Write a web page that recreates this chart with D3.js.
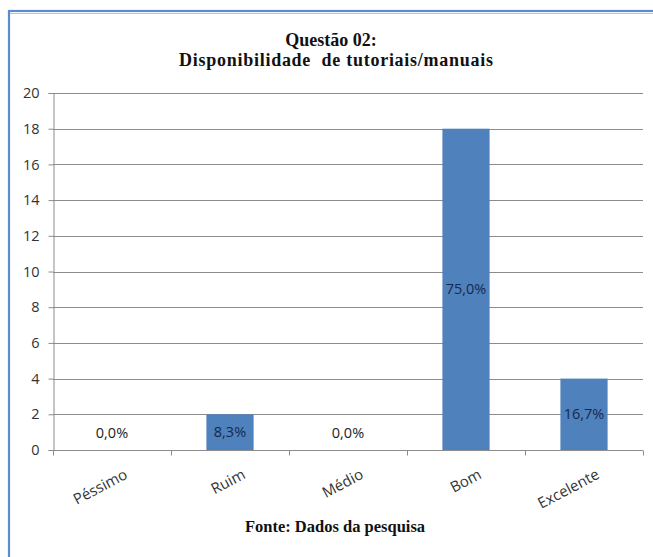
<!DOCTYPE html>
<html>
<head>
<meta charset="utf-8">
<script src="https://cdn.jsdelivr.net/npm/d3@7"></script>
<style>
  html, body { margin: 0; padding: 0; background: #fff; }
  svg { display: block; }
</style>
</head>
<body>
<script>
// Survey answers for question 02
const categories = ["Péssimo", "Ruim", "Médio", "Bom", "Excelente"];
const counts = [0, 2, 0, 18, 4];
const yTicks = [0, 2, 4, 6, 8, 10, 12, 14, 16, 18, 20];
const titleLines = ["Questão 02:", "Disponibilidade  de tutoriais/manuais"];
const sourceText = "Fonte: Dados da pesquisa";

const W = 653, H = 557;
const margin = { left: 53, top: 93 };
const plotRight = 643;
const plotBottom = 450;
const sans = "'Open Sans', Lato, sans-serif";
const serif = "'Liberation Serif', 'Times New Roman', serif";

const svg = d3.select("body").append("svg")
  .attr("width", W).attr("height", H);

// Frame around the chart
svg.append("rect")
  .attr("x", 9).attr("y", 13.5).attr("width", W + 20).attr("height", H + 20)
  .attr("fill", "none").attr("stroke", "#c4c4c4").attr("stroke-width", 1);
svg.append("rect")
  .attr("x", 9).attr("y", 11).attr("width", W + 20).attr("height", H + 20)
  .attr("fill", "none").attr("stroke", "#5b8bd3").attr("stroke-width", 2.2);

const x = d3.scaleBand()
  .domain(categories)
  .range([margin.left, plotRight])
  .paddingInner(0.6).paddingOuter(0.3);

const xOuter = d3.scaleBand()
  .domain(categories)
  .range([margin.left, plotRight]);

const y = d3.scaleLinear()
  .domain([0, 20])
  .range([plotBottom, margin.top]);

// Horizontal gridlines
svg.append("g")
  .selectAll("line")
  .data(yTicks.filter(d => d > 0))
  .join("line")
  .attr("x1", margin.left).attr("x2", plotRight)
  .attr("y1", d => Math.round(y(d)) + 0.5).attr("y2", d => Math.round(y(d)) + 0.5)
  .attr("stroke", "#8c8c8c").attr("stroke-width", 1);

// Bars
const total = d3.sum(counts);
const data = categories.map((c, i) => ({ cat: c, value: counts[i], pct: counts[i] / total * 100 }));

svg.append("g")
  .selectAll("rect")
  .data(data)
  .join("rect")
  .attr("x", d => x(d.cat))
  .attr("width", x.bandwidth())
  .attr("y", d => y(d.value))
  .attr("height", d => y(0) - y(d.value))
  .attr("fill", "#4f81bd");

// Y axis
const yAxis = svg.append("g")
  .attr("transform", `translate(${margin.left + 0.5},0)`)
  .call(d3.axisLeft(y).tickValues(yTicks).tickSize(5).tickPadding(9).tickFormat(d3.format("d")));
yAxis.select(".domain").attr("stroke", "#8c8c8c");
yAxis.selectAll(".tick line").attr("stroke", "#8c8c8c");
yAxis.selectAll("text")
  .attr("fill", "#333").attr("font-family", sans).attr("font-size", 14.5);

// X axis with tick marks on category boundaries
const xAxisG = svg.append("g").attr("transform", `translate(0,${plotBottom + 0.5})`);
xAxisG.append("line")
  .attr("x1", margin.left).attr("x2", plotRight)
  .attr("stroke", "#8c8c8c");
const bounds = categories.map(c => xOuter(c)).concat([plotRight]);
xAxisG.selectAll("line.tk")
  .data(bounds)
  .join("line").attr("class", "tk")
  .attr("x1", d => Math.round(d) + 0.5).attr("x2", d => Math.round(d) + 0.5)
  .attr("y1", 0).attr("y2", 5)
  .attr("stroke", "#8c8c8c");

// Rotated category labels
svg.append("g")
  .selectAll("text")
  .data(categories)
  .join("text")
  .attr("transform", d => `translate(${x(d) + x.bandwidth() / 2 + 14},${plotBottom + 23}) rotate(-28)`)
  .attr("text-anchor", "end")
  .attr("dy", "0.35em")
  .attr("fill", "#333")
  .attr("font-family", sans)
  .attr("font-size", 15)
  .text(d => d);

// Percentage labels centred in each bar
const fmtPct = v => d3.format(".1f")(v).replace(".", ",") + "%";
svg.append("g")
  .selectAll("text")
  .data(data)
  .join("text")
  .attr("x", d => x(d.cat) + x.bandwidth() / 2)
  .attr("y", d => d.value > 0 ? (y(d.value) + y(0)) / 2 : y(0) - 17)
  .attr("text-anchor", "middle")
  .attr("dy", "0.35em")
  .attr("fill", d => d.value > 0 ? "#16294a" : "#222")
  .attr("font-family", sans)
  .attr("font-size", 14.5)
  .text(d => fmtPct(d.pct));

// Title
const title = svg.append("text")
  .attr("text-anchor", "middle")
  .attr("font-family", serif)
  .attr("font-weight", "bold")
  .attr("font-size", 18)
  .attr("fill", "#111");
title.selectAll("tspan")
  .data(titleLines)
  .join("tspan")
  .attr("x", (d, i) => i === 0 ? 331 : 336)
  .attr("y", (d, i) => 46 + i * 20)
  .attr("textLength", (d, i) => i === 0 ? null : 314)
  .attr("lengthAdjust", "spacing")
  .style("white-space", "pre")
  .text(d => d);

// Source note
svg.append("text")
  .attr("x", 335).attr("y", 532)
  .attr("text-anchor", "middle")
  .attr("font-family", serif)
  .attr("font-weight", "bold")
  .attr("font-size", 16.5)
  .attr("fill", "#111")
  .text(sourceText);
</script>
</body>
</html>
